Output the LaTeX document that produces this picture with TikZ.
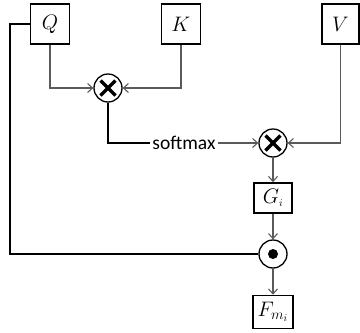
\RequirePackage{fix-cm}
\documentclass[tikz,border=0pt]{standalone}
\usepackage{fontspec}
\usetikzlibrary{arrows.meta,calc}
\newfontfamily\lblfont{Carlito}
\definecolor{linegray}{RGB}{90,90,90}
\tikzset{
  box/.style={draw, line width=1.6pt, minimum width=39pt, minimum height=40pt, inner sep=0pt, fill=white,
    font=\fontsize{21}{23}\selectfont},
  opnode/.style={circle, draw, line width=1.3pt, minimum size=28pt, inner sep=0pt, fill=white},
  opx/.style={opnode, path picture={
      \draw[black, line width=3.4pt] ([shift={(-7.5pt,-7.5pt)}]path picture bounding box.center) -- ([shift={(7.5pt,7.5pt)}]path picture bounding box.center);
      \draw[black, line width=3.4pt] ([shift={(-7.5pt,7.5pt)}]path picture bounding box.center) -- ([shift={(7.5pt,-7.5pt)}]path picture bounding box.center);}},
  opdot/.style={opnode, path picture={
      \fill[black] (path picture bounding box.center) circle[radius=5pt];}},
  arr/.style={draw=linegray, line width=1.1pt, -{Straight Barb[length=5pt,width=9pt]}},
  thick line/.style={draw=black, line width=1.8pt},
}
\begin{document}
\begin{tikzpicture}[x=1pt,y=-1pt]
\useasboundingbox (0,0) rectangle (360,333);
\node[box] (Q) at (50,24) {$Q$};
\node[box] (K) at (181,24) {$K$};
\node[box, minimum width=37pt] (V) at (340.5,24) {$V$};
\node[opx] (m1) at (108,88) {};
\node[opx] (m2) at (273,143) {};
\node[box, minimum width=38pt, minimum height=30pt] (G) at (273,198) {$G_{\scriptscriptstyle i}$};
\node[opdot] (d) at (273,254) {};
\node[box, minimum width=40pt, minimum height=33pt] (F) at (273,312) {$F_{m_{\scriptscriptstyle i}}$};
\node[font=\lblfont\fontsize{19.5}{21}\selectfont, inner sep=2pt, fill=white] (sm) at (184,143) {softmax};
\coordinate (ql1) at (10,24);
\coordinate (ql2) at (10,254);
\path[arr] (Q.south) |- (m1.west);
\path[arr] (K.south) |- (m1.east);
\path[thick line] (m1.south) |- (sm.west);
\path[arr] (sm.east) -- (m2.west);
\path[arr] (V.south) |- (m2.east);
\path[arr] (m2.south) -- (G.north);
\path[arr] (G.south) -- (d.north);
\path[arr] (d.south) -- (F.north);
\path[thick line] (Q.west) -- (ql1) -- (ql2) -- (d.west);
\end{tikzpicture}
\end{document}
